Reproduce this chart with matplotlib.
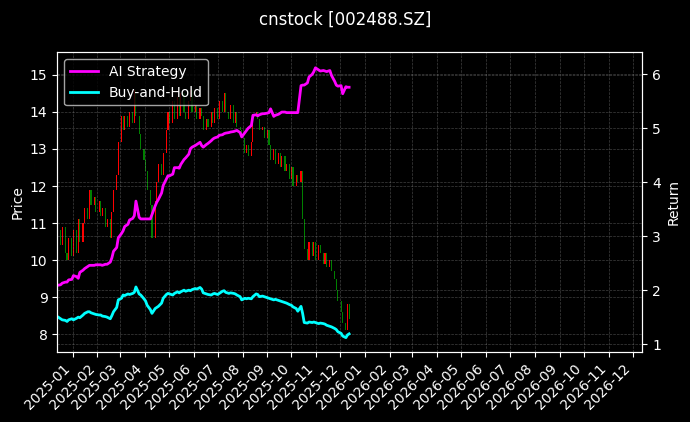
import numpy as np
import pandas as pd
import matplotlib
matplotlib.use('Agg')
import matplotlib.pyplot as plt
import matplotlib.dates as mdates

# 收盘价（每两个交易日一个点）
close = [10.8, 10.4, 10.9, 10.2, 10.0, 10.6, 10.1, 10.8, 10.2, 11.1,
         10.5, 11.0, 11.4, 11.1, 11.9, 11.5, 11.7, 11.3, 11.6, 11.2,
         11.4, 10.9, 11.1, 10.6, 11.3, 11.9, 12.3, 13.2, 13.9, 13.5,
         13.9, 13.6, 14.0, 13.7, 14.6, 13.9, 13.4, 13.0, 12.7, 12.4,
         11.9, 11.5, 10.6, 11.6, 12.1, 12.6, 12.3, 12.9, 13.5, 14.0,
         13.7, 14.3, 13.8, 14.4, 13.9, 14.5, 14.0, 13.8, 14.3, 14.6,
         14.0, 14.2, 13.8, 14.1, 13.9, 13.5, 13.8, 13.6, 14.0, 13.7,
         14.1, 13.8, 14.3, 14.0, 14.5, 14.0, 13.8, 14.2, 13.7, 14.0,
         13.6, 13.5, 13.3, 12.9, 13.1, 12.8, 13.2, 13.9, 14.0, 13.8,
         13.5, 13.6, 13.3, 13.5, 13.1, 12.7, 13.0, 12.6, 12.9, 12.5,
         12.8, 12.4, 12.6, 12.2, 12.5, 12.0, 12.3, 12.1, 12.4, 11.1,
         10.3, 10.0, 10.5, 10.1, 10.5, 10.0, 10.4, 10.2, 9.9, 10.2,
         9.8, 10.0, 9.7, 9.5, 9.2, 8.9, 8.6, 8.3, 8.1, 8.8, 8.4]

# AI 策略累计收益
ai_ret = [2.09, 2.10, 2.13, 2.15, 2.15, 2.19, 2.20, 2.27, 2.25, 2.22,
          2.33, 2.37, 2.40, 2.44, 2.46, 2.46, 2.46, 2.47, 2.47, 2.47,
          2.46, 2.48, 2.48, 2.52, 2.60, 2.72, 2.79, 2.97, 3.05, 3.10,
          3.18, 3.22, 3.30, 3.33, 3.38, 3.65, 3.35, 3.32, 3.32, 3.32,
          3.32, 3.32, 3.40, 3.56, 3.63, 3.68, 3.80, 3.94, 4.06, 4.12,
          4.12, 4.15, 4.27, 4.27, 4.26, 4.33, 4.42, 4.45, 4.52, 4.62,
          4.65, 4.68, 4.70, 4.74, 4.68, 4.65, 4.70, 4.72, 4.77, 4.80,
          4.82, 4.84, 4.87, 4.88, 4.90, 4.91, 4.92, 4.93, 4.94, 4.95,
          4.96, 4.92, 4.84, 4.92, 4.96, 5.00, 5.05, 5.24, 5.25, 5.23,
          5.25, 5.27, 5.27, 5.28, 5.29, 5.36, 5.22, 5.24, 5.26, 5.28,
          5.30, 5.30, 5.29, 5.29, 5.29, 5.29, 5.29, 5.29, 5.79, 5.80,
          5.80, 5.84, 5.95, 6.00, 6.05, 6.12, 6.08, 6.06, 6.07, 6.06,
          6.05, 6.07, 5.98, 5.87, 5.80, 5.78, 5.79, 5.64, 5.77, 5.76, 5.76]

# 买入持有收益
bh_ret = [1.51, 1.47, 1.45, 1.44, 1.42, 1.45, 1.47, 1.45, 1.48, 1.50,
          1.49, 1.54, 1.57, 1.60, 1.60, 1.58, 1.56, 1.55, 1.54, 1.54,
          1.52, 1.51, 1.50, 1.47, 1.53, 1.60, 1.68, 1.82, 1.85, 1.91,
          1.90, 1.93, 1.92, 1.94, 1.96, 2.06, 1.93, 1.91, 1.84, 1.80,
          1.72, 1.64, 1.57, 1.66, 1.68, 1.70, 1.76, 1.85, 1.92, 1.94,
          1.93, 1.91, 1.94, 1.97, 1.95, 1.97, 2.00, 1.98, 2.00, 1.99,
          2.01, 2.03, 2.02, 2.05, 2.02, 1.95, 1.93, 1.92, 1.91, 1.93,
          1.94, 1.92, 1.94, 1.98, 1.99, 1.96, 1.94, 1.95, 1.94, 1.93,
          1.91, 1.88, 1.82, 1.85, 1.84, 1.85, 1.84, 1.88, 1.93, 1.92,
          1.88, 1.89, 1.88, 1.86, 1.85, 1.84, 1.82, 1.83, 1.81, 1.80,
          1.79, 1.77, 1.76, 1.73, 1.72, 1.69, 1.66, 1.61, 1.70, 1.57,
          1.40, 1.39, 1.41, 1.40, 1.41, 1.40, 1.38, 1.39, 1.38, 1.37,
          1.35, 1.33, 1.32, 1.29, 1.27, 1.23, 1.20, 1.15, 1.12, 1.17, 1.19]

dates = pd.bdate_range('2024-12-13', periods=len(close), freq='2B')
close = np.array(close)
open_ = np.concatenate([[10.5], close[:-1]])  # 开盘价取上一个点的收盘价
colors = np.where(close >= open_, 'red', 'green')

plt.style.use('dark_background')
fig = plt.figure(figsize=(6.9, 4.22), dpi=100)
ax = fig.add_axes([0.083, 0.167, 0.848, 0.709])
ax.set_facecolor('black')

# K线（细柱表示开收盘）
ax.bar(dates, close - open_, bottom=open_, width=1.4, color=colors, linewidth=0)
ax.set_ylim(7.53, 15.61)
ax.set_yticks(range(8, 16))
ax.set_ylabel('Price', color='white')
ax.grid(True, linestyle='--', linewidth=0.5, color='gray', alpha=0.5)

ax2 = ax.twinx()
ax2.plot(dates, ai_ret, color='#ff00ff', linewidth=2, label='AI Strategy')
ax2.plot(dates, bh_ret, color='#00ffff', linewidth=2, label='Buy-and-Hold')
ax2.set_ylim(0.863, 6.407)
ax2.set_yticks(range(1, 7))
ax2.set_ylabel('Return', color='white')
ax2.grid(True, linestyle='--', linewidth=0.5, color='gray', alpha=0.5)

ax.set_xlim(pd.Timestamp('2024-12-12 20:00'), pd.Timestamp('2026-12-13'))
ax.xaxis.set_major_locator(mdates.MonthLocator())
ax.xaxis.set_major_formatter(mdates.DateFormatter('%Y-%m'))
plt.setp(ax.get_xticklabels(), rotation=45, ha='right')

leg = ax2.legend(loc='upper left', facecolor='black', edgecolor='#cccccc', framealpha=0.8)

fig.suptitle('cnstock [002488.SZ]', color='white', fontsize=12, y=0.975)

plt.savefig('out.png', dpi=100, facecolor='black')
